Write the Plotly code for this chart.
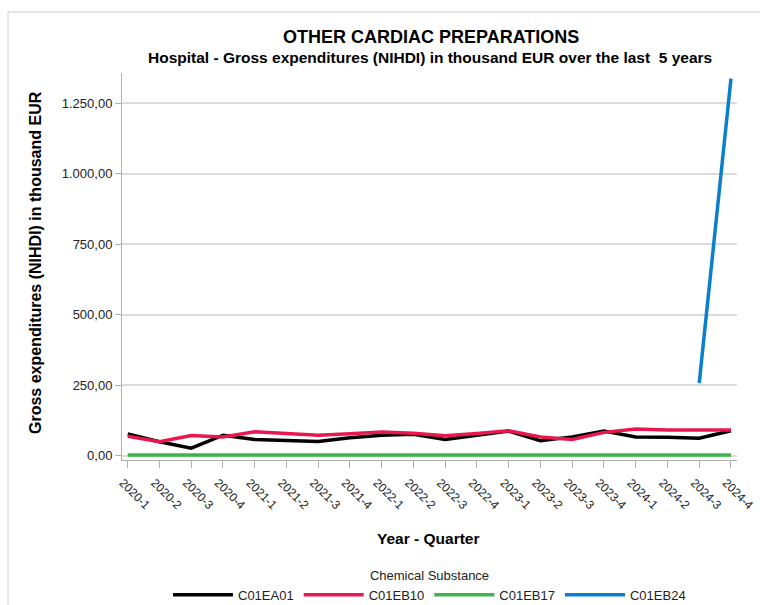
import plotly.graph_objects as go

quarters = ["2020-1", "2020-2", "2020-3", "2020-4", "2021-1", "2021-2", "2021-3", "2021-4",
            "2022-1", "2022-2", "2022-3", "2022-4", "2023-1", "2023-2", "2023-3", "2023-4",
            "2024-1", "2024-2", "2024-3", "2024-4"]
c01ea01 = [77, 50, 27, 73, 58, 53, 51, 64, 73, 76, 58, 73, 88, 53, 67, 88, 67, 66, 62, 89]
c01eb10 = [69, 50, 72, 67, 85, 79, 73, 78, 84, 80, 71, 79, 89, 67, 58, 83, 95, 91, 90, 91]
c01eb17 = [3, 3, 3, 3, 3, 3, 3, 3, 3, 3, 3, 3, 3, 3, 3, 3, 3, 3, 3, 3]
c01eb24 = [None] * 18 + [258, 1338]
y_ticks = [0, 250, 500, 750, 1000, 1250]

series = [
    ("C01EA01", c01ea01, "#000000"),
    ("C01EB10", c01eb10, "#E8174F"),
    ("C01EB17", c01eb17, "#3DB54A"),
    ("C01EB24", c01eb24, "#0A7FCC"),
]

FONT = "Liberation Sans, Arial, sans-serif"

fig = go.Figure()
for name, vals, color in series:
    fig.add_trace(go.Scatter(x=quarters, y=vals, name=name, mode="lines",
                             line=dict(color=color, width=3.5)))

W, H = 760, 605
L, R, T, B = 122, 23, 73, 145
pw, ph = W - L - R, H - T - B

def px(x):
    return (x - L) / pw

def py(y):
    return (H - B - y) / ph

fig.update_layout(
    width=W, height=H,
    margin=dict(l=L, r=R, t=T, b=B, autoexpand=False),
    paper_bgcolor="white", plot_bgcolor="white",
    separators=",.",
    font=dict(family=FONT, size=13, color="#222"),
    showlegend=True,
    legend=dict(orientation="h", x=0.5, xanchor="center", y=py(563), yanchor="top",
                title=dict(text="Chemical Substance", side="top center",
                           font=dict(size=13, color="#222")),
                font=dict(size=13, color="#222"), itemwidth=60,
                traceorder="normal"),
    xaxis=dict(type="category", range=[-0.18, 19.19], tickangle=45, automargin=False,
               showgrid=False, showline=True, linecolor="#B0B0B0", linewidth=1,
               ticks="outside", ticklen=7, tickcolor="#B0B0B0",
               ticklabelshift=-5, ticklabelstandoff=3,
               tickfont=dict(size=12, color="#222"), zeroline=False),
    yaxis=dict(range=[-15, 1358], tickvals=y_ticks, tickformat=",.2f", automargin=False,
               showgrid=True, gridcolor="#DCDCDC", gridwidth=1.5,
               showline=True, linecolor="#B0B0B0", linewidth=1,
               ticks="outside", ticklen=6, tickcolor="#B0B0B0",
               tickfont=dict(size=13, color="#222"), zeroline=False),
    annotations=[
        dict(text="<b>OTHER CARDIAC PREPARATIONS</b>", x=px(431), y=py(37), xref="paper", yref="paper",
             showarrow=False, font=dict(size=18, color="#000"), xanchor="center", yanchor="middle"),
        dict(text="<b>Hospital - Gross expenditures (NIHDI) in thousand EUR over the last  5 years</b>",
             x=px(430), y=py(57), xref="paper", yref="paper",
             showarrow=False, font=dict(size=15.5, color="#000"), xanchor="center", yanchor="middle"),
        dict(text="<b>Gross expenditures (NIHDI) in thousand EUR</b>", x=px(35), y=py(263),
             xref="paper", yref="paper", textangle=-90,
             showarrow=False, font=dict(size=16, color="#000"), xanchor="center", yanchor="middle"),
        dict(text="<b>Year - Quarter</b>", x=px(428), y=py(538), xref="paper", yref="paper",
             showarrow=False, font=dict(size=15.5, color="#000"), xanchor="center", yanchor="middle"),
    ],
    shapes=[
        dict(type="line", xref="paper", yref="paper", x0=px(8), x1=px(8), y0=py(12), y1=py(605),
             line=dict(color="#D0D0D0", width=1)),
        dict(type="line", xref="paper", yref="paper", x0=px(8), x1=px(760), y0=py(12), y1=py(12),
             line=dict(color="#D0D0D0", width=1)),
    ],
)

fig.write_html("out.html", config={"displayModeBar": False},
               post_script="document.body.style.margin='0';document.body.style.padding='0';")
